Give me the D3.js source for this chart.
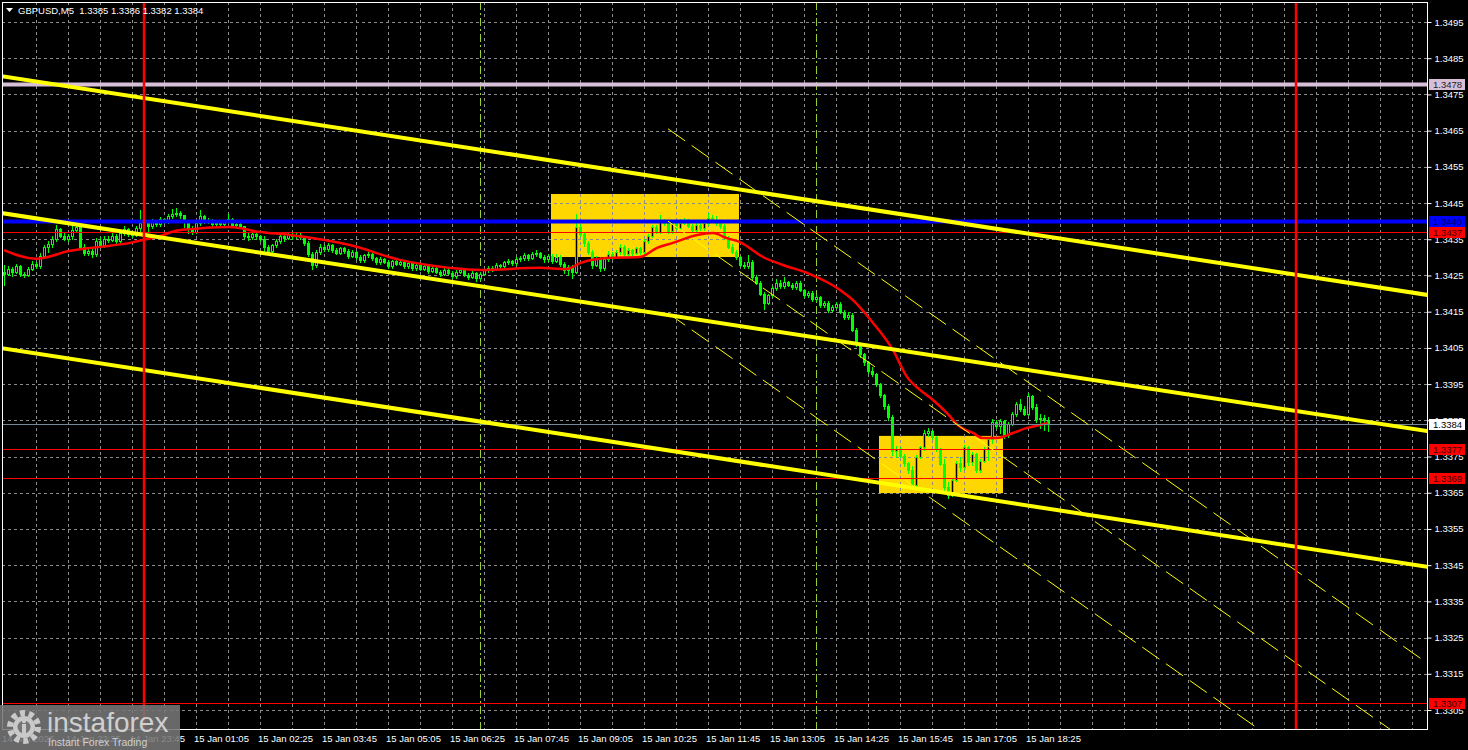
<!DOCTYPE html>
<html><head><meta charset="utf-8">
<script src="https://cdn.jsdelivr.net/npm/d3@7"></script>
<style>
html,body{margin:0;padding:0;background:#000;}
svg{display:block;}
text{font-family:"Liberation Sans",Arial,sans-serif;}
</style></head>
<body>
<svg id="c" width="1468" height="750"></svg>
<script>
// ---------- DATA ----------
const symbolTitle = "GBPUSD,M5  1.3385 1.3386 1.3382 1.3384";
const timeLabels = ["14 Jan 2026","14 Jan 22:25","14 Jan 23:45","15 Jan 01:05","15 Jan 02:25","15 Jan 03:45","15 Jan 05:05","15 Jan 06:25","15 Jan 07:45","15 Jan 09:05","15 Jan 10:25","15 Jan 11:45","15 Jan 13:05","15 Jan 14:25","15 Jan 15:45","15 Jan 17:05","15 Jan 18:25"];
const timeLabelBars = [0,16,32,48,64,80,96,112,128,144,160,176,192,208,224,240,256];
const priceTicks = [1.3305,1.3315,1.3325,1.3335,1.3345,1.3355,1.3365,1.3375,1.3385,1.3395,1.3405,1.3415,1.3425,1.3435,1.3445,1.3455,1.3465,1.3475,1.3485,1.3495];

const open = [
1.34260,1.34255,1.34268,1.34260,1.34275,1.34254,1.34250,1.34268,1.34283,1.34276,
1.34305,1.34328,1.34336,1.34350,1.34378,1.34360,1.34352,1.34358,1.34376,1.34385,
1.34330,1.34312,1.34318,1.34308,1.34346,1.34335,1.34352,1.34348,1.34360,1.34346,
1.34368,1.34378,1.34365,1.34362,1.34380,1.34395,1.34394,1.34386,1.34400,1.34392,
1.34407,1.34399,1.34415,1.34420,1.34422,1.34416,1.34398,1.34380,1.34370,1.34395,
1.34414,1.34400,1.34401,1.34392,1.34396,1.34393,1.34398,1.34405,1.34389,1.34392,
1.34386,1.34360,1.34356,1.34364,1.34358,1.34352,1.34330,1.34318,1.34333,1.34344,
1.34359,1.34354,1.34361,1.34358,1.34363,1.34356,1.34340,1.34310,1.34280,1.34315,
1.34330,1.34322,1.34335,1.34320,1.34312,1.34326,1.34318,1.34304,1.34315,1.34300,
1.34292,1.34306,1.34310,1.34298,1.34286,1.34295,1.34288,1.34276,1.34290,1.34282,
1.34287,1.34275,1.34284,1.34270,1.34279,1.34268,1.34275,1.34263,1.34272,1.34260,
1.34254,1.34266,1.34258,1.34248,1.34259,1.34265,1.34252,1.34246,1.34258,1.34242,
1.34255,1.34264,1.34272,1.34268,1.34280,1.34275,1.34286,1.34290,1.34284,1.34295,
1.34298,1.34306,1.34299,1.34308,1.34312,1.34302,1.34295,1.34304,1.34290,1.34302,
1.34282,1.34265,1.34274,1.34260,1.34385,1.34365,1.34340,1.34315,1.34280,1.34298,
1.34270,1.34295,1.34310,1.34302,1.34315,1.34330,1.34308,1.34320,1.34312,1.34325,
1.34314,1.34345,1.34360,1.34385,1.34370,1.34400,1.34394,1.34372,1.34395,1.34382,
1.34396,1.34402,1.34388,1.34376,1.34390,1.34380,1.34395,1.34410,1.34403,1.34395,
1.34388,1.34355,1.34330,1.34316,1.34300,1.34280,1.34275,1.34288,1.34245,1.34230,
1.34200,1.34175,1.34195,1.34215,1.34230,1.34220,1.34232,1.34225,1.34218,1.34230,
1.34210,1.34195,1.34202,1.34185,1.34190,1.34168,1.34175,1.34156,1.34163,1.34172,
1.34150,1.34135,1.34142,1.34100,1.34060,1.34032,1.34010,1.33985,1.33978,1.33950,
1.33920,1.33890,1.33860,1.33765,1.33772,1.33752,1.33732,1.33712,1.33672,1.33750,
1.33775,1.33815,1.33820,1.33805,1.33770,1.33730,1.33665,1.33645,1.33685,1.33732,
1.33720,1.33776,1.33734,1.33756,1.33712,1.33738,1.33770,1.33798,1.33846,1.33834,
1.33848,1.33810,1.33840,1.33868,1.33895,1.33880,1.33868,1.33918,1.33886,1.33854,
1.33856,1.33850];
const high = [
1.34280,1.34275,1.34274,1.34282,1.34278,1.34260,1.34273,1.34290,1.34288,1.34312,
1.34335,1.34345,1.34360,1.34390,1.34382,1.34368,1.34364,1.34386,1.34392,1.34390,
1.34336,1.34328,1.34324,1.34354,1.34355,1.34358,1.34360,1.34368,1.34364,1.34374,
1.34386,1.34382,1.34372,1.34386,1.34430,1.34406,1.34398,1.34406,1.34404,1.34412,
1.34410,1.34420,1.34434,1.34436,1.34428,1.34418,1.34404,1.34386,1.34402,1.34430,
1.34418,1.34408,1.34406,1.34402,1.34400,1.34402,1.34420,1.34408,1.34396,1.34395,
1.34388,1.34366,1.34368,1.34368,1.34362,1.34358,1.34334,1.34338,1.34350,1.34364,
1.34362,1.34368,1.34366,1.34368,1.34366,1.34360,1.34344,1.34316,1.34320,1.34336,
1.34334,1.34340,1.34338,1.34326,1.34330,1.34330,1.34322,1.34320,1.34318,1.34306,
1.34310,1.34316,1.34314,1.34302,1.34300,1.34298,1.34292,1.34294,1.34296,1.34292,
1.34290,1.34288,1.34286,1.34284,1.34282,1.34279,1.34278,1.34276,1.34274,1.34264,
1.34270,1.34270,1.34262,1.34264,1.34270,1.34268,1.34256,1.34262,1.34260,1.34259,
1.34268,1.34276,1.34275,1.34284,1.34283,1.34290,1.34296,1.34294,1.34300,1.34304,
1.34312,1.34310,1.34314,1.34320,1.34316,1.34306,1.34310,1.34308,1.34308,1.34306,
1.34286,1.34280,1.34278,1.34420,1.34392,1.34370,1.34344,1.34320,1.34304,1.34302,
1.34300,1.34318,1.34314,1.34320,1.34336,1.34334,1.34326,1.34324,1.34330,1.34328,
1.34350,1.34364,1.34390,1.34390,1.34418,1.34406,1.34400,1.34404,1.34398,1.34406,
1.34410,1.34406,1.34392,1.34396,1.34394,1.34400,1.34422,1.34416,1.34414,1.34400,
1.34392,1.34360,1.34336,1.34320,1.34304,1.34286,1.34306,1.34292,1.34250,1.34234,
1.34204,1.34200,1.34220,1.34240,1.34238,1.34246,1.34236,1.34230,1.34236,1.34234,
1.34214,1.34208,1.34206,1.34196,1.34194,1.34180,1.34180,1.34168,1.34178,1.34176,
1.34154,1.34148,1.34146,1.34104,1.34064,1.34036,1.34014,1.33996,1.33982,1.33954,
1.33924,1.33895,1.33865,1.33780,1.33776,1.33756,1.33736,1.33724,1.33755,1.33780,
1.33822,1.33830,1.33824,1.33808,1.33774,1.33742,1.33680,1.33692,1.33738,1.33748,
1.33782,1.33780,1.33762,1.33760,1.33744,1.33776,1.33804,1.33855,1.33852,1.33854,
1.33850,1.33846,1.33872,1.33900,1.33908,1.33890,1.33926,1.33920,1.33894,1.33868,
1.33864,1.33860];
const low = [
1.34225,1.34250,1.34248,1.34256,1.34249,1.34246,1.34248,1.34264,1.34270,1.34272,
1.34298,1.34315,1.34330,1.34346,1.34355,1.34348,1.34346,1.34352,1.34370,1.34324,
1.34306,1.34306,1.34300,1.34304,1.34330,1.34330,1.34342,1.34344,1.34338,1.34342,
1.34362,1.34360,1.34356,1.34358,1.34374,1.34388,1.34370,1.34380,1.34386,1.34388,
1.34394,1.34396,1.34410,1.34414,1.34408,1.34384,1.34366,1.34364,1.34368,1.34390,
1.34396,1.34394,1.34388,1.34388,1.34388,1.34390,1.34394,1.34384,1.34384,1.34382,
1.34354,1.34348,1.34352,1.34350,1.34346,1.34312,1.34310,1.34314,1.34330,1.34340,
1.34346,1.34350,1.34352,1.34354,1.34350,1.34334,1.34304,1.34268,1.34274,1.34310,
1.34318,1.34318,1.34316,1.34308,1.34308,1.34312,1.34298,1.34300,1.34296,1.34288,
1.34288,1.34302,1.34294,1.34282,1.34282,1.34284,1.34270,1.34272,1.34278,1.34278,
1.34270,1.34272,1.34266,1.34266,1.34264,1.34264,1.34258,1.34260,1.34256,1.34248,
1.34250,1.34254,1.34242,1.34244,1.34256,1.34248,1.34240,1.34242,1.34234,1.34238,
1.34250,1.34260,1.34262,1.34264,1.34270,1.34272,1.34282,1.34280,1.34280,1.34290,
1.34294,1.34294,1.34296,1.34304,1.34298,1.34288,1.34290,1.34284,1.34286,1.34276,
1.34258,1.34252,1.34242,1.34256,1.34358,1.34332,1.34308,1.34272,1.34276,1.34262,
1.34266,1.34290,1.34296,1.34298,1.34310,1.34302,1.34304,1.34306,1.34308,1.34308,
1.34310,1.34340,1.34356,1.34366,1.34366,1.34390,1.34368,1.34368,1.34378,1.34378,
1.34392,1.34384,1.34372,1.34372,1.34376,1.34376,1.34390,1.34398,1.34390,1.34382,
1.34350,1.34326,1.34312,1.34296,1.34276,1.34270,1.34272,1.34240,1.34226,1.34196,
1.34158,1.34170,1.34190,1.34210,1.34216,1.34216,1.34220,1.34212,1.34214,1.34206,
1.34190,1.34190,1.34180,1.34180,1.34162,1.34164,1.34150,1.34152,1.34160,1.34146,
1.34130,1.34130,1.34096,1.34054,1.34026,1.34004,1.33980,1.33972,1.33944,1.33914,
1.33880,1.33850,1.33755,1.33750,1.33748,1.33725,1.33705,1.33664,1.33668,1.33746,
1.33768,1.33806,1.33798,1.33766,1.33726,1.33656,1.33636,1.33642,1.33682,1.33710,
1.33716,1.33726,1.33726,1.33706,1.33706,1.33734,1.33740,1.33786,1.33828,1.33814,
1.33800,1.33804,1.33836,1.33862,1.33876,1.33864,1.33864,1.33880,1.33846,1.33830,
1.33824,1.33820];
const close = [
1.34255,1.34268,1.34260,1.34275,1.34254,1.34250,1.34268,1.34283,1.34276,1.34305,
1.34328,1.34336,1.34350,1.34378,1.34360,1.34352,1.34358,1.34376,1.34385,1.34330,
1.34312,1.34318,1.34308,1.34346,1.34335,1.34352,1.34348,1.34360,1.34346,1.34368,
1.34378,1.34365,1.34362,1.34380,1.34395,1.34394,1.34386,1.34400,1.34392,1.34407,
1.34399,1.34415,1.34420,1.34422,1.34416,1.34398,1.34380,1.34370,1.34395,1.34414,
1.34400,1.34401,1.34392,1.34396,1.34393,1.34398,1.34405,1.34389,1.34392,1.34386,
1.34360,1.34356,1.34364,1.34358,1.34352,1.34330,1.34318,1.34333,1.34344,1.34359,
1.34354,1.34361,1.34358,1.34363,1.34356,1.34340,1.34310,1.34280,1.34315,1.34330,
1.34322,1.34335,1.34320,1.34312,1.34326,1.34318,1.34304,1.34315,1.34300,1.34292,
1.34306,1.34310,1.34298,1.34286,1.34295,1.34288,1.34276,1.34290,1.34282,1.34287,
1.34275,1.34284,1.34270,1.34279,1.34268,1.34275,1.34263,1.34272,1.34260,1.34254,
1.34266,1.34258,1.34248,1.34259,1.34265,1.34252,1.34246,1.34258,1.34242,1.34255,
1.34264,1.34272,1.34268,1.34280,1.34275,1.34286,1.34290,1.34284,1.34295,1.34298,
1.34306,1.34299,1.34308,1.34312,1.34302,1.34295,1.34304,1.34290,1.34302,1.34282,
1.34265,1.34274,1.34260,1.34385,1.34365,1.34340,1.34315,1.34280,1.34298,1.34270,
1.34295,1.34310,1.34302,1.34315,1.34330,1.34308,1.34320,1.34312,1.34325,1.34314,
1.34345,1.34360,1.34385,1.34370,1.34400,1.34394,1.34372,1.34395,1.34382,1.34396,
1.34402,1.34388,1.34376,1.34390,1.34380,1.34395,1.34410,1.34403,1.34395,1.34388,
1.34355,1.34330,1.34316,1.34300,1.34280,1.34275,1.34288,1.34245,1.34230,1.34200,
1.34175,1.34195,1.34215,1.34230,1.34220,1.34232,1.34225,1.34218,1.34230,1.34210,
1.34195,1.34202,1.34185,1.34190,1.34168,1.34175,1.34156,1.34163,1.34172,1.34150,
1.34135,1.34142,1.34100,1.34060,1.34032,1.34010,1.33985,1.33978,1.33950,1.33920,
1.33890,1.33860,1.33765,1.33772,1.33752,1.33732,1.33712,1.33672,1.33750,1.33775,
1.33815,1.33820,1.33805,1.33770,1.33730,1.33665,1.33645,1.33685,1.33732,1.33720,
1.33776,1.33734,1.33756,1.33712,1.33738,1.33770,1.33798,1.33846,1.33834,1.33848,
1.33810,1.33840,1.33868,1.33895,1.33880,1.33868,1.33918,1.33886,1.33854,1.33856,
1.33850,1.33840];

// moving average
const maBars = [0,8,16.5,24,31.5,34.75,39,42.75,46.5,56.5,64,71.5,86.5,99,111.5,119,134,140.75,144,150.75,159,163.25,167.25,173.25,177.25,180.75,184,189.75,194.75,200.75,209,212.25,217.25,222.25,225.75,229,232.25,235.75,239,242.25,244.75,248.25,252.25,255.75,259,261];
const maValues = [1.34320,1.34296,1.34318,1.34329,1.34340,1.34348,1.34359,1.34373,1.34378,1.34384,1.34370,1.34362,1.34334,1.34293,1.34271,1.34265,1.34271,1.34268,1.34284,1.34298,1.34301,1.34326,1.34340,1.34362,1.34367,1.34353,1.34342,1.34301,1.34279,1.34257,1.34210,1.34182,1.34119,1.34044,1.33970,1.33934,1.33906,1.33870,1.33832,1.33815,1.33801,1.33801,1.33815,1.33829,1.33837,1.33843];

// horizontal levels
const levelPrices = [1.3478, 1.3440, 1.3437, 1.3384, 1.3377, 1.3369, 1.3307];
const levelColors = ["#d8bfd8", "#0000ff", "#ff0000", "#778899", "#ff0000", "#ff0000", "#ff0000"];
const levelWidths = [4, 4, 1, 1, 1, 1, 1];
const levelLabelBg = ["#d8bfd8", "#0000ff", "#ff0000", "#ffffff", "#ff0000", "#ff0000", "#ff0000"];
const levelLabelFg = ["#222", "#00005a", "#3a0000", "#000", "#3a0000", "#3a0000", "#3a0000"];

// trend channel (solid, thick) : [bar1, price1, bar2, price2]
const channelLines = [[-1,1.34801,356,1.34196],[-1,1.34423,356,1.33820],[-1,1.34050,356,1.33445]];
// steep dashed channel
const dashedLines = [[166,1.34655,355.75,1.33180],[166,1.34400,355.75,1.32925],[166,1.34146,355.75,1.32670]];
// rectangles: [bar1, bar2, priceTop, priceBottom]
const boxes = [[136.75,183.75,1.34475,1.34301],[218.75,249.75,1.33807,1.33649]];
// vertical lines (bar index)
const redVLines = [35, 323];
const greenVLines = [119, 203];

// ---------- DRAW ----------
const svg = d3.select("#c");
const L = 2, T = 2, R = 1427, B = 729;
const x = d3.scaleLinear().domain([0, 355.75]).range([4, 1427]);
const y = d3.scaleLinear().domain([1.3305, 1.3495]).range([710, 22]);

svg.append("rect").attr("width",1468).attr("height",750).attr("fill","#000");
svg.append("defs").append("clipPath").attr("id","plot")
  .append("rect").attr("x",L).attr("y",T).attr("width",R-L).attr("height",B-T);

const plot = svg.append("g").attr("clip-path","url(#plot)");

// boxes
plot.selectAll("rect.box").data(boxes).join("rect").attr("class","box")
  .attr("x", d=>x(d[0])).attr("width", d=>x(d[1])-x(d[0]))
  .attr("y", d=>y(d[2])).attr("height", d=>y(d[3])-y(d[2]))
  .attr("fill","#ffd700");

// grid
const gridColor = "#8c8c8c";
const vgrid = d3.range(8, 356, 8);
plot.selectAll("line.vg").data(vgrid).join("line")
  .attr("x1", d=>Math.round(x(d))+0.5).attr("x2", d=>Math.round(x(d))+0.5)
  .attr("y1", T).attr("y2", B).attr("stroke", gridColor).attr("stroke-dasharray","3,3");
plot.selectAll("line.hg").data(priceTicks).join("line")
  .attr("x1", L).attr("x2", R)
  .attr("y1", d=>Math.round(y(d))+0.5).attr("y2", d=>Math.round(y(d))+0.5)
  .attr("stroke", gridColor).attr("stroke-dasharray","3,3");

// green verticals
plot.selectAll("line.gv").data(greenVLines).join("line")
  .attr("x1", d=>Math.round(x(d))+0.5).attr("x2", d=>Math.round(x(d))+0.5)
  .attr("y1", T).attr("y2", B).attr("stroke", "#9acd32").attr("stroke-dasharray","8,3,2,3");

// candles
const idx = d3.range(close.length);
const cg = plot.append("g").attr("shape-rendering","crispEdges");
cg.selectAll("line.wick").data(idx).join("line")
  .attr("x1", i=>Math.round(x(i))+0.5).attr("x2", i=>Math.round(x(i))+0.5)
  .attr("y1", i=>Math.round(y(high[i]))).attr("y2", i=>Math.round(y(low[i]))+1)
  .attr("stroke","#00ff00");
cg.selectAll("rect.body").data(idx).join("rect")
  .attr("x", i=>Math.round(x(i))-0.5).attr("width", 2)
  .attr("y", i=>Math.round(y(Math.max(open[i],close[i])))+0.5)
  .attr("height", i=>Math.max(0, Math.round(y(Math.min(open[i],close[i]))) - Math.round(y(Math.max(open[i],close[i])))))
  .attr("fill", i=> close[i] >= open[i] ? "#000" : "#00ff00")
  .attr("stroke","#00ff00");

// moving average
const maPts = maBars.map((b,i)=>[b, maValues[i]]);
plot.append("path").datum(maPts)
  .attr("d", d3.line().x(d=>x(d[0])).y(d=>y(d[1])).curve(d3.curveMonotoneX))
  .attr("fill","none").attr("stroke","#ff0000").attr("stroke-width",2.5);

// horizontal levels
plot.selectAll("line.lvl").data(levelPrices).join("line")
  .attr("x1", L).attr("x2", R)
  .attr("y1", d=>Math.round(y(d))+0.5).attr("y2", d=>Math.round(y(d))+0.5)
  .attr("stroke", (d,i)=>levelColors[i]).attr("stroke-width",(d,i)=>levelWidths[i]);

// channel lines
plot.selectAll("line.ch").data(channelLines).join("line")
  .attr("x1", d=>x(d[0])).attr("y1", d=>y(d[1])).attr("x2", d=>x(d[2])).attr("y2", d=>y(d[3]))
  .attr("stroke","#ffff00").attr("stroke-width",4);
plot.selectAll("line.dch").data(dashedLines).join("line")
  .attr("x1", d=>x(d[0])).attr("y1", d=>y(d[1])).attr("x2", d=>x(d[2])).attr("y2", d=>y(d[3]))
  .attr("stroke","#ffff00").attr("stroke-width",1).attr("stroke-dasharray","21,8");

// red verticals
plot.selectAll("line.rv").data(redVLines).join("line")
  .attr("x1", d=>x(d)).attr("x2", d=>x(d)).attr("y1", T).attr("y2", B)
  .attr("stroke","#ff0000").attr("stroke-width",2.5);

// frame
svg.append("rect").attr("x",L+0.5).attr("y",T+0.5).attr("width",R-L).attr("height",B-T)
  .attr("fill","none").attr("stroke","#fff").attr("stroke-width",1);

// right price axis
const yAxis = d3.axisRight(y).tickValues(priceTicks).tickSize(4).tickPadding(3).tickFormat(d3.format(".4f"));
const ya = svg.append("g").attr("transform",`translate(${R+0.5},0)`).call(yAxis);
ya.select(".domain").remove();
ya.selectAll(".tick line").attr("stroke","#fff");
ya.selectAll(".tick text").attr("fill","#fff").attr("font-size","9.5px").attr("font-family","Liberation Sans, Arial, sans-serif");

// level labels on axis
const lab = svg.append("g");
levelPrices.forEach((p,i)=>{
  const yy = Math.round(y(p));
  lab.append("rect").attr("x",1429).attr("y",yy-5).attr("width",36).attr("height",11).attr("fill",levelLabelBg[i]);
  lab.append("text").attr("x",1433).attr("y",yy+4).attr("fill",levelLabelFg[i])
    .attr("font-size","9.5px").text(d3.format(".4f")(p));
});

// time axis labels
const xa = svg.append("g");
xa.selectAll("text").data(timeLabelBars).join("text")
  .attr("x", d=>Math.round(x(d))-2).attr("y", 742)
  .attr("fill","#fff").attr("font-size","9.5px").text((d,i)=>timeLabels[i]);

// header
svg.append("path").attr("d","M6,8 L13,8 L9.5,12 Z").attr("fill","#fff");
svg.append("text").attr("x",18).attr("y",14).attr("fill","#fff").attr("font-size","9.5px")
  .attr("xml:space","preserve").style("white-space","pre").text(symbolTitle);

// watermark
const wm = svg.append("g");
wm.append("rect").attr("x",0).attr("y",705).attr("width",180).attr("height",45).attr("fill","rgba(118,118,118,0.88)");
const gx = 24, gy = 727;
wm.append("circle").attr("cx",gx).attr("cy",gy).attr("r",14).attr("fill","none")
  .attr("stroke","#c9c9c9").attr("stroke-width",6).attr("stroke-dasharray","5,3.8");
wm.append("circle").attr("cx",gx).attr("cy",gy).attr("r",11).attr("fill","#c9c9c9");
wm.append("circle").attr("cx",gx).attr("cy",gy).attr("r",6.5).attr("fill","#767676");
wm.append("rect").attr("x",gx-2).attr("y",gy-3).attr("width",4).attr("height",12).attr("fill","#c9c9c9");
wm.append("circle").attr("cx",gx).attr("cy",gy-6).attr("r",2.2).attr("fill","#c9c9c9");
wm.append("text").attr("x",47).attr("y",732).attr("fill","#d0d0d0").attr("font-size","28px")
  .attr("font-family","Lato, 'Open Sans', sans-serif").text("instaforex");
wm.append("text").attr("x",48).attr("y",746).attr("fill","#d0d0d0").attr("font-size","10.5px").text("Instant Forex Trading");
</script>
</body></html>
